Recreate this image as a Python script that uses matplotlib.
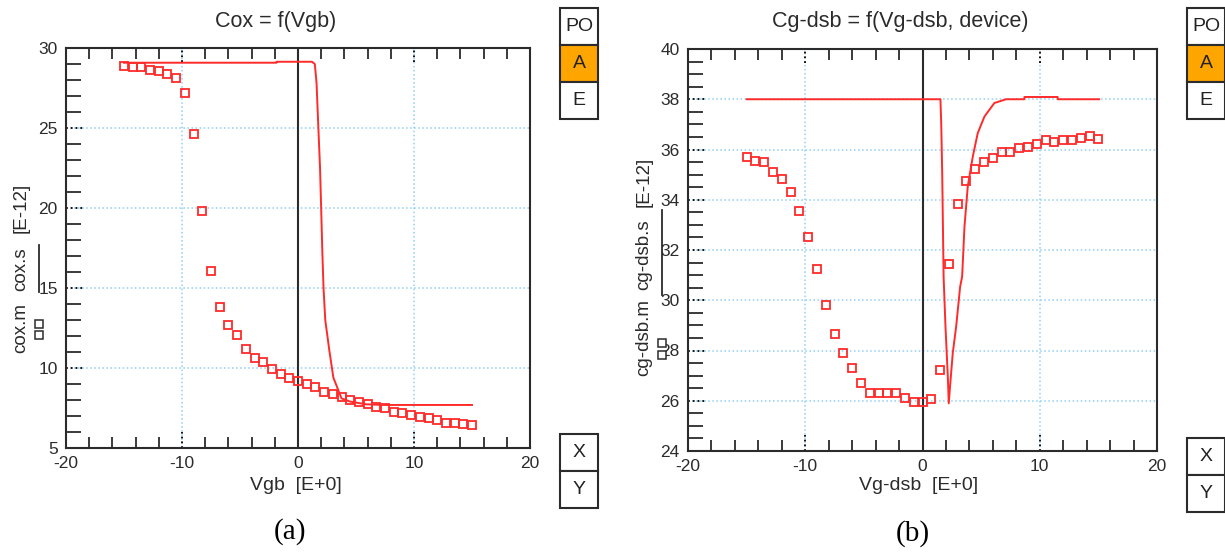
import matplotlib
matplotlib.use("Agg")
import matplotlib.pyplot as plt
import numpy as np
from matplotlib.patches import Rectangle
from matplotlib.lines import Line2D
from matplotlib.ticker import MultipleLocator
import matplotlib.transforms as mtransforms

plt.rcParams['font.family'] = ['Liberation Sans', 'DejaVu Sans']
plt.rcParams['axes.unicode_minus'] = False

# ---- data (a): Cox = f(Vgb) ----
vgb = np.arange(-15, 15.01, 0.75)
cox_m = [28.89, 28.81, 28.81, 28.63, 28.54, 28.39, 28.14, 27.21, 24.61, 19.83,
         16.06, 13.79, 12.69, 12.04, 11.19, 10.60, 10.36, 9.94, 9.60, 9.36,
         9.19, 8.98, 8.79, 8.52, 8.35, 8.19, 8.02, 7.85, 7.77, 7.58,
         7.50, 7.25, 7.17, 7.08, 6.94, 6.85, 6.77, 6.58, 6.58, 6.50, 6.42]
cox_s_x = [-15, -1.85, -1.85, 1.2, 1.45, 1.6, 1.75, 1.9, 2.0, 2.1, 2.2, 2.35,
           2.7, 3.05, 3.75, 4.5, 5.9, 7.5, 15]
cox_s_y = [29.08, 29.08, 29.14, 29.14, 29.0, 27.8, 25.1, 22.5, 19.9, 17.2, 15.0,
           13.0, 11.1, 9.4, 8.1, 7.9, 7.73, 7.69, 7.69]

# ---- data (b): Cg-dsb = f(Vg-dsb, device) ----
vgdsb = np.arange(-15, 15.01, 0.75)
cg_m = [35.71, 35.55, 35.49, 35.12, 34.83, 34.31, 33.55, 32.53, 31.24, 29.80,
        28.67, 27.91, 27.31, 26.72, 26.29, 26.29, 26.29, 26.29, 26.12, 25.96,
        25.96, 26.08, 27.21, 31.46, 33.85, 34.74, 35.23, 35.50, 35.67, 35.92,
        35.92, 36.04, 36.10, 36.20, 36.37, 36.30, 36.36, 36.36, 36.47, 36.52, 36.43]
cg_s_x = [-15, 1.53, 1.6, 1.68, 1.8, 1.96, 2.16, 2.24, 2.36, 2.58, 2.87, 3.21,
          3.38, 3.58, 3.86, 4.29, 4.71, 5.28, 6.13, 7.13, 8.69, 8.69, 11.53, 11.53, 15.07]
cg_s_y = [38.0, 38.0, 36.98, 35.06, 30.94, 28.95, 26.96, 25.9, 26.63, 27.89, 28.95,
          30.54, 30.94, 32.93, 34.53, 35.72, 36.65, 37.31, 37.85, 38.0, 38.0, 38.09,
          38.09, 38.0, 38.0]

W, H = 1225, 552
RED = '#ff2a2a'
DARK = '#2b2b2b'
GRID = '#8fd0f5'

fig = plt.figure(figsize=(W / 100, H / 100), dpi=100)


def fx(x):
    return x / W


def fy(y):
    return 1 - y / H


def setup(ax, ylim, ymaj, ymin_step, ygrid):
    ax.set_xlim(-20, 20)
    ax.set_ylim(*ylim)
    ax.xaxis.set_major_locator(MultipleLocator(10))
    ax.xaxis.set_minor_locator(MultipleLocator(2))
    ax.yaxis.set_major_locator(MultipleLocator(ymaj))
    ax.yaxis.set_minor_locator(MultipleLocator(ymin_step))
    ax.tick_params(which='both', direction='in', top=True, right=False,
                   colors=DARK, width=1.3)
    ax.tick_params(which='major', length=0, pad=6, labelsize=12.5)
    ax.tick_params(axis='x', which='minor', length=8)
    ax.tick_params(axis='y', which='minor', length=10.5)
    for s in ax.spines.values():
        s.set_color(DARK)
        s.set_linewidth(1.5)
    for gx in (-10, 10):
        ax.axvline(gx, color=GRID, ls=':', lw=1.1, zorder=0)
    for gy in ygrid:
        ax.axhline(gy, color=GRID, ls=':', lw=1.1, zorder=0)
    # black dotted major ticks
    bx = mtransforms.blended_transform_factory(ax.transAxes, ax.transData)
    by = mtransforms.blended_transform_factory(ax.transData, ax.transAxes)
    for gy in ygrid:
        ax.plot([0, 0.04], [gy, gy], transform=bx, color='k', ls=':', lw=1.3, zorder=1)
    for gx in (-10, 10):
        ax.plot([gx, gx], [0, 0.04], transform=by, color='k', ls=':', lw=1.3, zorder=1)
        ax.plot([gx, gx], [0.965, 1], transform=by, color='k', ls=':', lw=1.3, zorder=1)
    ax.axvline(0, color=DARK, lw=1.5, zorder=1)


# ---- panel (a) ----
ax1 = fig.add_axes([fx(66), fy(448), fx(464), 400 / H])
setup(ax1, (5, 30), 5, 1, [10, 15, 20, 25])
ax1.plot(cox_s_x, cox_s_y, color=RED, lw=1.4, zorder=3)
ax1.plot(vgb, cox_m, ls='none', marker='s', ms=5.2, mfc='none', mec=RED, mew=1.3, zorder=4)

# ---- panel (b) ----
ax2 = fig.add_axes([fx(688), fy(451), fx(469), 402 / H])
setup(ax2, (24, 40), 2, 0.5, [26, 28, 30, 32, 34, 36, 38])
ax2.plot(cg_s_x, cg_s_y, color=RED, lw=1.4, zorder=3)
ax2.plot(vgdsb, cg_m, ls='none', marker='s', ms=5.2, mfc='none', mec=RED, mew=1.3, zorder=4)

# titles / axis labels
fig.text(fx(276), fy(22), 'Cox = f(Vgb)', ha='center', va='center', fontsize=15.5, color=DARK)
fig.text(fx(900), fy(22), 'Cg-dsb = f(Vg-dsb, device)', ha='center', va='center',
         fontsize=15.5, color=DARK)
fig.text(fx(296), fy(486), 'Vgb  [E+0]', ha='center', va='center', fontsize=14, color=DARK)
fig.text(fx(919), fy(486), 'Vg-dsb  [E+0]', ha='center', va='center', fontsize=14, color=DARK)
fig.text(fx(290), fy(532), '(a)', ha='center', va='center', fontsize=21,
         family='Liberation Serif', color='k')
fig.text(fx(913), fy(534), '(b)', ha='center', va='center', fontsize=21,
         family='Liberation Serif', color='k')

# rotated y labels with legend keys
for xc, parts, line_y, sq_y in [
        (21, [('[E-12]', 208), ('cox.s', 269), ('cox.m', 328)], (245, 292), (324, 335)),
        (644, [('[E-12]', 182), ('cg-dsb.s', 255), ('cg-dsb.m', 338)], (210, 295), (343, 355))]:
    for txt, yc in parts:
        fig.text(fx(xc), fy(yc), txt, rotation=90, ha='center', va='center',
                 fontsize=13.5, color=DARK)
    kx = xc + 18
    fig.add_artist(Line2D([fx(kx), fx(kx)], [fy(line_y[0]), fy(line_y[1])],
                          transform=fig.transFigure, color=DARK, lw=1.3))
    for sy in sq_y:
        fig.add_artist(Line2D([fx(kx)], [fy(sy)], transform=fig.transFigure,
                              marker='s', ms=6, mfc='white', mec=DARK, mew=1.1))


# side buttons
def box(x0, y0, label, face='white'):
    fig.add_artist(Rectangle((fx(x0), fy(y0 + 37)), fx(38), 37 / H, transform=fig.transFigure,
                             facecolor=face, edgecolor=DARK, lw=1.5))
    fig.text(fx(x0 + 19), fy(y0 + 18.5), label, ha='center', va='center',
             fontsize=14, color='#222222')


for x0, ytop, ybot in [(560, 8, 434), (1187, 8, 438)]:
    box(x0, ytop, 'PO')
    box(x0, ytop + 37, 'A', face='#ffa500')
    box(x0, ytop + 74, 'E')
    box(x0, ybot, 'X')
    box(x0, ybot + 37, 'Y')

fig.savefig('out.png', dpi=100)
